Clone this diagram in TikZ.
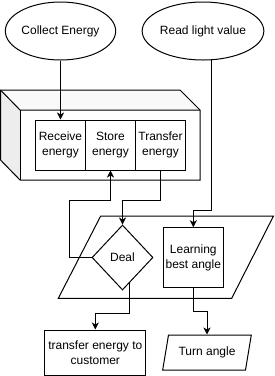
\documentclass[tikz,border=0pt]{standalone}
\usepackage{fontspec}
\setmainfont{Liberation Sans}
\usetikzlibrary{shapes.geometric,arrows.meta,calc}
\begin{document}
\begin{tikzpicture}[x=1pt,y=-1pt,line width=1pt,
  txt/.style={font=\fontsize{12}{14.5}\selectfont,align=center,inner sep=0pt},
  ell/.style={txt,ellipse,draw,fill=white,minimum width=100pt,minimum height=58pt},
  box/.style={txt,rectangle,draw,fill=white},
  arr/.style={-{Stealth[length=7pt,width=7pt,inset=2pt]}}]
\useasboundingbox (0,0) rectangle (274,376);
% ellipses
\node[ell] (ce) at (60.5,31) {Collect Energy};
\node[ell] (rl) at (203,31) {Read light value};
% cube
\fill[gray!14] (0.5,90) -- (20,110) -- (20,180) -- (0.5,160) -- cycle;
\fill[gray!5] (0.5,90) -- (180,90) -- (200,110) -- (20,110) -- cycle;
\draw (0.5,90) -- (180,90) -- (200,110) -- (200,180) -- (20,180) -- (0.5,160) -- cycle;
\draw (0.5,90) -- (20,110) -- (200,110);
\draw (20,110) -- (20,180);
\node[box,minimum width=50pt,minimum height=50pt] (rcv) at (60.5,145) {Receive\\energy};
\node[box,minimum width=50pt,minimum height=50pt] (sto) at (110.5,145) {Store\\energy};
\node[box,minimum width=50pt,minimum height=50pt] (trf) at (160.5,145) {Transfer\\energy};
% big parallelogram
\draw[fill=white] (100.7,216) -- (273.5,216) -- (231.7,298.3) -- (58.3,298.3) -- cycle;
\node[txt,diamond,draw,fill=white,minimum width=61pt,minimum height=65pt] (deal) at (122.5,257.5) {Deal};
\node[box,minimum width=60pt,minimum height=60pt] (lba) at (193.3,257.7) {Learning\\best angle};
\node[box,minimum width=100.7pt,minimum height=45pt] (tec) at (95.3,352.5) {transfer energy to\\customer};
\node[txt,trapezium,draw,fill=white,trapezium left angle=69,trapezium right angle=111,
  trapezium stretches=true,minimum width=89pt,minimum height=35pt] (ta) at (207,352.5) {Turn angle};
% connectors
\draw[arr] (ce.south) -- (rcv.north);
\draw[arr] (trf.south) -- ++(0,30) -| (deal.north);
\draw[arr] (deal.west) -- ++(-22,0) |- ($(sto.south)+(0,30)$) -- (sto.south);
\draw[arr] (deal.-75) -- ++(0,30) -| (tec.north);
\draw[arr] (rl.-74.4) -- ++(0,150.5) -| (lba.north);
\draw[arr] (lba.south) -- ++(0,23.7) -| (ta.north);
\end{tikzpicture}
\end{document}
